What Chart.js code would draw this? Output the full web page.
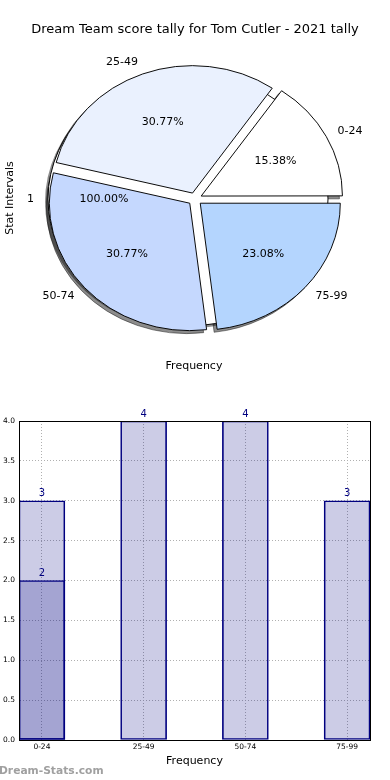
<!DOCTYPE html>
<html>
<head>
<meta charset="utf-8">
<script src="https://cdn.jsdelivr.net/npm/chart.js@4.4.1/dist/chart.umd.min.js"></script>
<style>
  body { margin: 0; background: #fff; }
  canvas { display: block; }
</style>
</head>
<body>
<canvas id="pieChart" width="390" height="390"></canvas>
<canvas id="barChart" width="390" height="390"></canvas>
<script>
const intervals = ["0-24", "25-49", "50-74", "75-99"];
const pieCounts = [2, 4, 4, 3];
const pieColors = ["#ffffff", "#eaf1fe", "#c5d8fe", "#b4d5fe"];
const wholeLabel = "1";
const barCounts = [3, 4, 4, 3];
const barOverlay = [2, null, null, null];

Chart.defaults.font.family = "'DejaVu Sans', sans-serif";
Chart.defaults.color = "#000";

// matplotlib drew the pie a bit squashed, so squeeze it vertically
const squash = 0.907;
const explode = 28; // chart.js uses offset / 4

const pieExtras = {
  id: "pieExtras",
  beforeDatasetsDraw(chart) {
    const ctx = chart.ctx;
    const arcs = chart.getDatasetMeta(0).data;
    const cx = arcs[0].x, cy = arcs[0].y, r = arcs[0].outerRadius;
    const ghostX = cx - arcs[0].options.offset / 4;
    ctx.save();
    ctx.translate(cx, cy);
    ctx.scale(1, squash);
    ctx.translate(-cx, -cy);

    // shadows only: shapes drawn off canvas, shadow lands back in place
    ctx.save();
    ctx.translate(-2000, 0);
    ctx.shadowColor = "rgba(0,0,0,0.45)";
    ctx.shadowOffsetX = 2000 - 3;
    ctx.shadowOffsetY = 3;
    arcs.forEach((a) => a.draw(ctx));
    ctx.beginPath();
    ctx.arc(ghostX, cy, r, 0, Math.PI * 2);
    ctx.fillStyle = "#000";
    ctx.fill();
    ctx.restore();

    // the whole-pie wedge sitting underneath
    ctx.beginPath();
    ctx.arc(ghostX, cy, r, 0, Math.PI * 2);
    ctx.fillStyle = "#fff";
    ctx.fill();
    ctx.lineWidth = 1;
    ctx.strokeStyle = "#000";
    ctx.stroke();
  },
  afterDatasetsDraw(chart) {
    const ctx = chart.ctx;
    ctx.restore();
    const arcs = chart.getDatasetMeta(0).data;
    const ds = chart.data.datasets[0];
    const total = ds.data.reduce((s, v) => s + v, 0);
    ctx.save();
    ctx.font = "11px 'DejaVu Sans'";
    ctx.fillStyle = "#000";
    ctx.textBaseline = "middle";
    arcs.forEach((a, i) => {
      const mid = (a.startAngle + a.endAngle) / 2;
      const off = a.options.offset / 4;
      const r = a.outerRadius;
      const at = (k) => [
        a.x + (k * r + off) * Math.cos(mid),
        a.y + squash * (k * r + off) * Math.sin(mid),
      ];
      let [x, y] = at(1.1);
      ctx.textAlign = Math.cos(mid) >= 0 ? "left" : "right";
      ctx.fillText(chart.data.labels[i], x, y);
      [x, y] = at(0.6);
      ctx.textAlign = "center";
      ctx.fillText(((ds.data[i] / total) * 100).toFixed(2) + "%", x, y);
    });
    // labels of the whole-pie wedge
    const a = arcs[0];
    const off = a.options.offset / 4;
    ctx.textAlign = "right";
    ctx.fillText(wholeLabel, a.x - (1.1 * a.outerRadius + off), a.y);
    ctx.textAlign = "center";
    ctx.fillText((100).toFixed(2) + "%", a.x - (0.6 * a.outerRadius + off), a.y);

    ctx.fillText("Frequency", 194, 366);
    ctx.translate(10, 198);
    ctx.rotate(-Math.PI / 2);
    ctx.fillText("Stat Intervals", 0, 0);
    ctx.restore();
  },
};

new Chart(document.querySelector("#pieChart").getContext("2d"), {
  type: "pie",
  data: {
    labels: intervals.slice().reverse(),
    datasets: [
      {
        data: pieCounts.slice().reverse(),
        backgroundColor: pieColors.slice().reverse(),
        borderColor: "#000",
        borderWidth: 1,
        offset: explode,
        hoverOffset: 0,
        radius: 140,
        rotation: 90,
      },
    ],
  },
  options: {
    responsive: false,
    animation: false,
    events: [],
    radius: 140,
    rotation: 90,
    layout: { padding: { top: 0, bottom: 29.6, left: 20, right: 20 } },
    plugins: {
      legend: { display: false },
      tooltip: { enabled: false },
      title: {
        display: true,
        text: "Dream Team score tally for Tom Cutler - 2021 tally",
        font: { size: 13, weight: "normal" },
        color: "#000",
        padding: { top: 22, bottom: 0 },
      },
    },
  },
  plugins: [pieExtras],
});

const barExtras = {
  id: "barExtras",
  afterDatasetsDraw(chart) {
    const ctx = chart.ctx;
    const { left, top, right, bottom } = chart.chartArea;
    ctx.save();
    ctx.strokeStyle = "#000";
    ctx.lineWidth = 1;
    ctx.strokeRect(Math.round(left) + 0.5, Math.round(top) + 0.5, Math.round(right - left), Math.round(bottom - top));

    ctx.font = "10px 'DejaVu Sans'";
    ctx.fillStyle = "#000080";
    ctx.textAlign = "center";
    ctx.textBaseline = "bottom";
    chart.data.datasets.forEach((ds, di) => {
      chart.getDatasetMeta(di).data.forEach((bar, i) => {
        ctx.fillText(String(ds.data[i].y), bar.x, bar.y - 2);
      });
    });

    ctx.font = "bold 10.7px 'DejaVu Sans'";
    ctx.fillStyle = "#a0a0a0";
    ctx.textAlign = "left";
    ctx.textBaseline = "middle";
    ctx.fillText("Dream-Stats.com", -1, 381);
    ctx.restore();
  },
};

const barStyle = {
  backgroundColor: "rgba(0,0,128,0.2)",
  borderColor: "#000080",
  borderWidth: 1,
  borderSkipped: false,
  barThickness: 46,
  grouped: false,
};

new Chart(document.querySelector("#barChart").getContext("2d"), {
  type: "bar",
  data: {
    datasets: [
      { ...barStyle, data: barCounts.map((v, i) => ({ x: i, y: v })) },
      {
        ...barStyle,
        data: barOverlay.map((v, i) => ({ x: i, y: v })).filter((p) => p.y !== null),
      },
    ],
  },
  options: {
    responsive: false,
    animation: false,
    events: [],
    layout: { padding: { top: 31, right: 20, left: 0, bottom: 0 } },
    plugins: { legend: { display: false }, tooltip: { enabled: false } },
    scales: {
      x: {
        type: "linear",
        min: -0.225,
        max: 3.225,
        offset: false,
        afterBuildTicks: (s) => {
          s.ticks = intervals.map((_, i) => ({ value: i }));
        },
        afterFit: (s) => {
          s.height = 40;
        },
        ticks: {
          callback: (v) => intervals[v],
          font: { size: 7.5 },
          padding: 3,
          autoSkip: false,
          maxRotation: 0,
        },
        grid: { color: "#b0b0b0", drawTicks: false, offset: false },
        border: { color: "#000", dash: [1, 2] },
        title: {
          display: true,
          text: "Frequency",
          font: { size: 11 },
          padding: { top: 0, bottom: 12 },
        },
      },
      y: {
        min: 0,
        max: 4,
        afterFit: (s) => {
          s.width = 19;
        },
        ticks: {
          stepSize: 0.5,
          callback: (v) => v.toFixed(1),
          font: { size: 7.5 },
          padding: 4,
        },
        grid: { color: "#b0b0b0", drawTicks: false },
        border: { color: "#000", dash: [1, 2] },
      },
    },
  },
  plugins: [barExtras],
});
</script>
</body>
</html>
